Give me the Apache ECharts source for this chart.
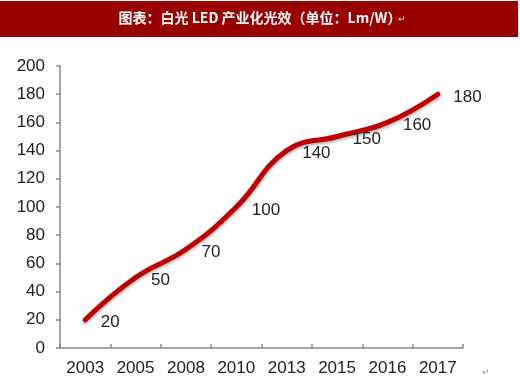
<!DOCTYPE html>
<html><head><meta charset="utf-8">
<script src="https://cdn.jsdelivr.net/npm/echarts@6/dist/echarts.min.js"></script>
<style>html,body{margin:0;padding:0;background:#fff}#c{width:520px;height:380px}</style>
</head><body><div id="c"></div>
<script>
const categories = ['2003','2005','2008','2010','2013','2015','2016','2017'];
const efficacy = [20, 50, 70, 100, 140, 150, 160, 180];
const yTicks = [0, 20, 40, 60, 80, 100, 120, 140, 160, 180, 200];
const titleText = '图表：白光 LED 产业化光效（单位：Lm/W）';

const chart = echarts.init(document.getElementById('c'), null, {renderer:'canvas'});
const font = '"Liberation Sans", Arial, sans-serif';
chart.setOption({
  animation: false,
  backgroundColor: '#fff',
  graphic: [
    {type:'rect', left:0, top:1, shape:{width:518, height:36}, style:{fill:'#990000'}},
    {type:'text', left:'center', top:11, style:{text:titleText, fill:'#fff', font:'bold 14px "Noto Sans CJK SC", sans-serif'}},
    {type:'text', left:398, top:15, style:{text:'↵', fill:'#ddd', font:'9px sans-serif'}},
    {type:'text', left:482, top:368, style:{text:'↵', fill:'#999', font:'9px sans-serif'}}
  ],
  grid: {left:60, right:57, top:66, bottom:32, containLabel:false},
  xAxis: {
    type:'category', data: categories, boundaryGap: true,
    axisLine:{lineStyle:{color:'#888', width:1.5}},
    axisTick:{show:true, length:4, inside:true, alignWithLabel:false, lineStyle:{color:'#888', width:1.5}},
    axisLabel:{color:'#222', fontSize:17, fontFamily:font, margin:12}
  },
  yAxis: {
    type:'value', min:yTicks[0], max:yTicks[yTicks.length-1], interval:20,
    splitLine:{show:false},
    axisLine:{show:true, lineStyle:{color:'#888', width:1.5}},
    axisTick:{show:true, length:4, lineStyle:{color:'#888', width:1.5}},
    axisLabel:{color:'#222', fontSize:17, fontFamily:font, margin:15}
  },
  series: [{
    type:'line', data: efficacy, smooth:0.45, symbol:'circle', symbolSize:1, showSymbol:true,
    itemStyle:{color:'rgba(0,0,0,0)'},
    lineStyle:{color:'#c00000', width:5, cap:'round', shadowColor:'rgba(0,0,0,0.3)', shadowBlur:3, shadowOffsetY:2},
    label:{show:true, position:'right', distance:15, offset:[0,3], color:'#222', fontSize:17, fontFamily:font}
  }]
});
</script></body></html>
